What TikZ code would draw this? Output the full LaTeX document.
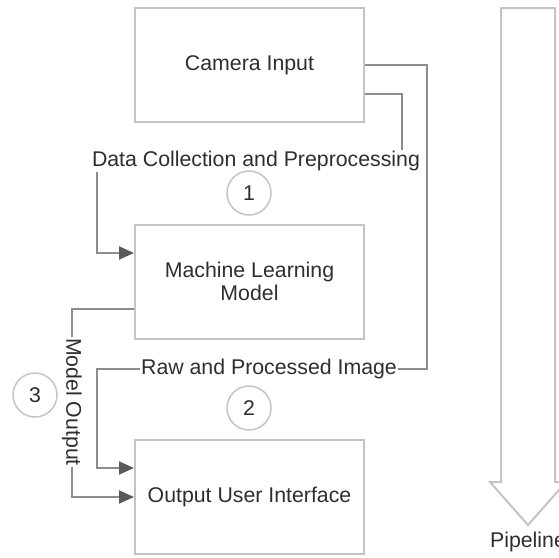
\documentclass[tikz,border=0pt]{standalone}
\usepackage{fontspec}
\setmainfont{Liberation Sans}
\usetikzlibrary{arrows.meta}
\definecolor{boxgray}{HTML}{C4C4C4}
\definecolor{linegray}{HTML}{8C8C8C}
\definecolor{tipgray}{HTML}{5A5A5A}
\definecolor{textgray}{HTML}{2E2E2E}
\begin{document}
\begin{tikzpicture}[x=1pt, y=-1pt,
    every node/.style={font=\fontsize{21.3}{25}\selectfont, text=textgray},
    block/.style={draw=boxgray, line width=2pt, minimum width=229pt,
      minimum height=114pt, align=center},
    conn/.style={draw=linegray, line width=2pt,
      -{Triangle[length=15pt, width=13pt, color=tipgray]}},
    lbl/.style={fill=white, inner sep=1pt},
    stepnum/.style={circle, draw=boxgray, line width=1.5pt, minimum size=44pt,
      inner sep=0pt}]
  \useasboundingbox (0,0) rectangle (559,557);
  % the three stages
  \node[block] (cam) at (249.5,65) {Camera Input};
  \node[block] (ml) at (249.5,281.5) {Machine Learning\\[-2pt]Model};
  \node[block] (out) at (249.5,497) {Output User Interface};
  % connectors
  \draw[conn] ([yshift=-29pt]cam.east) -| (402,161) -- (97,161)
    |- ([yshift=28.5pt]ml.west);
  \draw[conn] (cam.east) -| (427,369) -- (97,369)
    |- ([yshift=29pt]out.west);
  \draw[conn] ([yshift=-27.5pt]ml.west) -- ++(-62,0) |- (out.west);
  \node[lbl] (collect) at (256,161) {Data Collection and Preprocessing};
  \node[lbl] (rawimg) at (269,369) {Raw and Processed Image};
  \node[lbl, rotate=-90] (mout) at (72,402) {Model Output};
  % step numbers
  \node[stepnum] (n1) at (249,193) {1};
  \node[stepnum] (n2) at (249,408) {2};
  \node[stepnum] (n3) at (35,395) {3};
  % pipeline arrow
  \draw[draw=boxgray, line width=2pt] (501,8) -- (555,8) -- (555,482)
    -- (566,482) -- (528,525) -- (490,482) -- (501,482) -- cycle;
  \node (pipe) at (528,542) {Pipeline};
\end{tikzpicture}
\end{document}
